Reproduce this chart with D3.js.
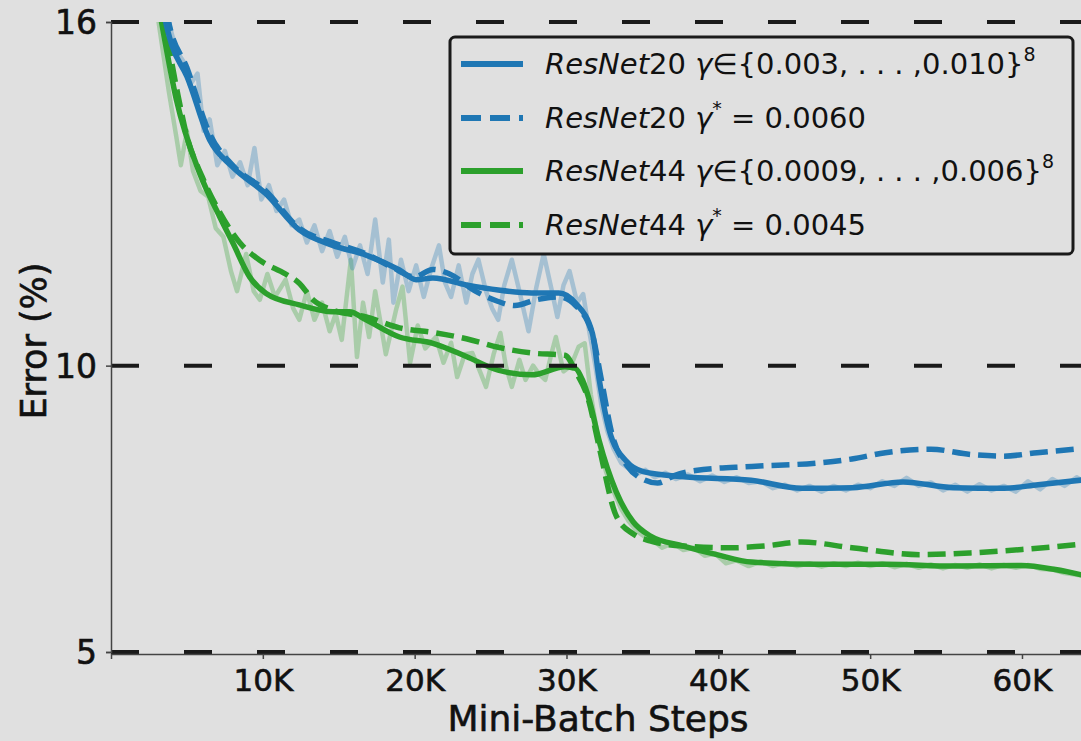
<!DOCTYPE html>
<html>
<head>
<meta charset="utf-8">
<script src="https://cdn.jsdelivr.net/npm/d3@7"></script>
<style>
  html, body { margin: 0; padding: 0; background: #e0e0e0; }
  svg { display: block; }
  text { font-family: "DejaVu Sans", sans-serif; fill: #111; }
</style>
</head>
<body>
<svg id="chart" width="1081" height="741"></svg>
<script>
// Steps are in thousands of mini-batches, values are test error in %.
const xTicks = [10, 20, 30, 40, 50, 60];
const yTicks = [5, 10, 16];

// ResNet20, per-step raw error for the scheduled gamma run
const resnet20Raw = [[3.3,16.6],[3.8,16.0],[4.3,15.5],[4.8,15.3],[5.2,14.9],[5.7,15.1],[6.1,14.1],[6.5,14.3],[7.0,13.5],[7.5,13.75],[8.0,13.3],[8.5,13.55],[9.0,13.15],[9.45,13.8],[9.9,12.9],[10.4,13.15],[10.9,12.7],[11.4,12.9],[11.9,12.45],[12.4,12.55],[12.9,12.15],[13.4,12.45],[13.9,12.0],[14.4,12.35],[14.9,11.9],[15.4,12.25],[15.9,11.7],[16.4,12.1],[16.9,11.6],[17.4,12.55],[17.9,11.45],[18.3,12.2],[18.6,11.1],[19.1,11.85],[19.6,11.3],[20.1,11.75],[20.6,11.2],[21.1,11.7],[21.6,12.1],[22.0,11.45],[22.4,11.2],[22.9,11.75],[23.4,11.1],[23.8,11.6],[24.2,11.85],[24.7,11.3],[25.1,11.0],[25.5,10.8],[25.9,11.4],[26.4,11.85],[26.9,11.3],[27.5,10.6],[28.0,11.35],[28.5,11.95],[29.0,11.35],[29.4,10.85],[29.8,11.4],[30.2,11.65],[30.7,11.1],[31.1,11.25],[31.5,10.6],[31.9,10.0],[32.3,9.3],[32.7,8.85],[33.1,8.55],[33.6,8.3],[34.1,8.2],[34.6,8.1],[35.2,8.18],[35.8,8.05],[36.5,8.13],[37.2,8.02],[38.0,8.1],[38.8,7.98],[39.6,8.08],[40.4,7.97],[41.2,8.05],[42.0,7.95],[42.8,7.98],[43.6,7.86],[44.4,7.92],[45.2,7.82],[46.0,7.9],[46.8,7.8],[47.6,7.9],[48.4,7.82],[49.2,7.92],[50.0,7.86],[50.8,7.98],[51.6,7.9],[52.4,8.04],[53.2,7.9],[54.0,7.96],[54.8,7.82],[55.6,7.92],[56.4,7.8],[57.2,7.93],[58.0,7.82],[58.8,7.9],[59.6,7.8],[60.4,7.98],[61.2,7.84],[62.0,8.02],[62.8,7.9],[63.6,8.05],[64.2,7.96]];

// ResNet20, smoothed error for gamma in {0.003, ..., 0.010}^8
const resnet20Sweep = [[3.2,16.6],[3.6,16.0],[4.0,15.6],[5.0,15.05],[6.5,13.94],[8.0,13.47],[10.2,13.0],[12.4,12.37],[14.6,12.1],[16.8,11.93],[19.0,11.67],[20.1,11.5],[21.2,11.53],[23.4,11.41],[25.5,11.32],[27.7,11.27],[29.5,11.27],[30.6,11.09],[31.7,10.57],[32.16,9.75],[32.83,8.86],[33.95,8.33],[35.05,8.15],[37.72,8.06],[42.15,8.0],[45.5,7.86],[48.84,7.87],[52.17,7.97],[55.48,7.87],[58.83,7.86],[61.06,7.92],[64.2,8.01]];

// ResNet20, smoothed error for the fixed gamma* = 0.0060
const resnet20Fixed = [[3.4,16.6],[3.8,16.0],[5.0,15.2],[6.5,14.05],[8.0,13.5],[10.2,13.05],[12.4,12.4],[14.6,12.15],[16.8,11.95],[18.5,11.72],[20.0,11.55],[21.2,11.68],[22.3,11.6],[24.0,11.3],[25.5,11.12],[26.6,11.05],[28.0,11.15],[29.5,11.2],[30.6,11.05],[31.7,10.55],[32.3,9.75],[33.0,8.8],[34.0,8.25],[35.0,8.02],[36.0,7.95],[37.1,8.08],[38.5,8.17],[42.2,8.24],[46.5,8.3],[48.8,8.37],[51.0,8.48],[54.0,8.54],[56.6,8.45],[58.8,8.42],[61.0,8.48],[64.2,8.56]];

// ResNet44, per-step raw error for the scheduled gamma run
const resnet44Raw = [[2.8,16.6],[3.3,15.7],[3.8,14.8],[4.3,14.0],[4.6,13.5],[5.0,14.1],[5.4,13.4],[5.9,13.05],[6.4,12.95],[6.9,12.4],[7.4,12.25],[7.9,11.65],[8.3,11.3],[8.9,11.95],[9.4,11.3],[9.8,11.15],[10.3,11.6],[10.8,11.2],[11.5,11.5],[12.0,11.0],[12.4,10.8],[12.9,11.3],[13.4,10.8],[13.9,11.1],[14.4,10.6],[14.8,10.9],[15.2,10.45],[15.8,11.85],[16.2,10.15],[16.6,11.1],[17.0,10.5],[17.4,11.3],[18.1,10.2],[18.8,11.0],[19.2,11.38],[19.7,10.05],[20.2,10.7],[20.7,10.3],[21.4,10.5],[21.9,10.05],[22.4,10.4],[22.8,9.8],[23.3,10.2],[23.8,10.22],[24.3,9.9],[24.7,9.63],[25.2,10.2],[25.65,10.57],[26.0,10.0],[26.4,9.63],[26.9,10.1],[27.3,9.75],[27.8,10.0],[28.2,9.85],[28.6,9.75],[29.0,10.2],[29.3,10.5],[29.8,9.9],[30.3,10.0],[30.8,10.33],[31.2,10.39],[31.6,9.5],[32.1,8.7],[32.6,8.15],[33.1,7.8],[33.6,7.5],[34.1,7.28],[34.6,7.12],[35.1,7.02],[35.7,6.95],[36.3,6.82],[37.0,6.9],[37.7,6.78],[38.4,6.82],[39.1,6.68],[39.8,6.72],[40.5,6.55],[41.2,6.6],[42.0,6.5],[42.8,6.58],[43.6,6.5],[44.4,6.56],[45.2,6.5],[46.0,6.55],[46.8,6.49],[47.6,6.55],[48.4,6.5],[49.2,6.56],[50.0,6.5],[50.8,6.55],[51.6,6.48],[52.4,6.54],[53.2,6.47],[54.0,6.53],[54.8,6.46],[55.6,6.52],[56.4,6.47],[57.2,6.53],[58.0,6.46],[58.8,6.52],[59.6,6.47],[60.4,6.52],[61.2,6.45],[62.0,6.44],[62.8,6.38],[63.6,6.35],[64.2,6.32]];

// ResNet44, smoothed error for gamma in {0.0009, ..., 0.006}^8
const resnet44Sweep = [[3.0,16.5],[3.33,16.0],[4.31,14.64],[5.84,13.36],[7.16,12.6],[8.03,12.14],[9.13,11.55],[10.22,11.26],[12.4,11.06],[14.6,10.94],[15.7,10.94],[16.8,10.8],[19.0,10.5],[21.2,10.39],[23.4,10.16],[25.5,9.92],[27.7,9.84],[29.9,9.98],[30.6,9.95],[31.05,9.75],[31.5,9.4],[32.16,8.68],[33.27,7.8],[34.4,7.27],[35.5,7.03],[37.7,6.85],[39.9,6.7],[42.2,6.57],[46.6,6.53],[51.06,6.53],[55.5,6.5],[59.95,6.51],[62.2,6.44],[64.2,6.33]];

// ResNet44, smoothed error for the fixed gamma* = 0.0045
const resnet44Fixed = [[3.0,16.6],[3.5,16.0],[4.3,14.87],[5.0,14.0],[6.0,13.3],[7.2,12.66],[8.5,12.14],[9.8,11.84],[11.5,11.6],[12.4,11.44],[13.3,11.15],[14.6,10.97],[16.8,10.85],[19.0,10.66],[21.2,10.58],[23.4,10.47],[25.5,10.32],[27.7,10.22],[29.9,10.18],[30.6,9.9],[31.45,9.4],[32.16,8.57],[33.27,7.38],[34.4,7.06],[35.5,6.94],[37.7,6.85],[41.0,6.82],[43.0,6.85],[45.5,6.92],[48.8,6.82],[53.3,6.7],[56.6,6.73],[60.0,6.79],[64.2,6.89]];

const legendLabels = [
  { parts: [["ResNet", "italic"], ["20 ", "normal"], ["γ", "italic"], ["∈{0.003, . . . ,0.010}", "normal"]], sup: "8" },
  { parts: [["ResNet", "italic"], ["20 ", "normal"], ["γ", "italic"]], sup: "*", tail: " = 0.0060" },
  { parts: [["ResNet", "italic"], ["44 ", "normal"], ["γ", "italic"], ["∈{0.0009, . . . ,0.006}", "normal"]], sup: "8" },
  { parts: [["ResNet", "italic"], ["44 ", "normal"], ["γ", "italic"]], sup: "*", tail: " = 0.0045" }
];

const BLUE = "#1f77b4", GREEN = "#2ca02c";

const svg = d3.select("#chart");
const W = 1081, H = 741;
const plotLeft = 111, plotTop = 22, plotBottom = 652;
const plotRight = plotLeft + 64.2 * 15.183;

svg.append("rect").attr("width", W).attr("height", H).attr("fill", "#e0e0e0");

const x = d3.scaleLinear().domain([0, 64.2]).range([plotLeft, plotRight]);
const y = d3.scaleLinear().domain([5, 16]).range([plotBottom, plotTop]);

svg.append("defs").append("clipPath").attr("id", "plotClip")
  .append("rect").attr("x", plotLeft).attr("y", plotTop)
  .attr("width", plotRight - plotLeft).attr("height", plotBottom - plotTop);

const plot = svg.append("g").attr("clip-path", "url(#plotClip)");

const rawLine = d3.line().x(d => x(d[0])).y(d => y(d[1])).curve(d3.curveLinear);
const smoothLine = d3.line().x(d => x(d[0])).y(d => y(d[1])).curve(d3.curveMonotoneX);

// raw traces underneath
plot.append("path").datum(resnet44Raw).attr("d", rawLine)
  .attr("fill", "none").attr("stroke", GREEN).attr("stroke-opacity", 0.3)
  .attr("stroke-width", 4.5).attr("stroke-linejoin", "round");
plot.append("path").datum(resnet20Raw).attr("d", rawLine)
  .attr("fill", "none").attr("stroke", BLUE).attr("stroke-opacity", 0.3)
  .attr("stroke-width", 4.5).attr("stroke-linejoin", "round");

const series = [
  { data: resnet20Sweep, color: BLUE, dash: null },
  { data: resnet20Fixed, color: BLUE, dash: "18,8" },
  { data: resnet44Sweep, color: GREEN, dash: null },
  { data: resnet44Fixed, color: GREEN, dash: "18,8" }
];

[series[3], series[2], series[1], series[0]].forEach(s => {
  plot.append("path").datum(s.data).attr("d", smoothLine)
    .attr("fill", "none").attr("stroke", s.color).attr("stroke-width", 5.5)
    .attr("stroke-dasharray", s.dash).attr("stroke-linejoin", "round");
});

// dashed horizontal guides at the y ticks
svg.append("g").selectAll("line").data(yTicks).join("line")
  .attr("x1", plotLeft).attr("x2", W)
  .attr("y1", d => y(d)).attr("y2", d => y(d))
  .attr("stroke", "#1a1a1a").attr("stroke-width", 4).attr("stroke-dasharray", "28,45");

// axes
const yAxis = svg.append("g").attr("transform", `translate(${plotLeft},0)`)
  .call(d3.axisLeft(y).tickValues(yTicks).tickSize(5).tickPadding(9).tickFormat(d3.format("d")));
const xAxis = svg.append("g").attr("transform", `translate(0,${plotBottom + 2})`)
  .call(d3.axisBottom(x).tickValues(xTicks).tickSize(5).tickPadding(10).tickFormat(d => d + "K"));

[yAxis, xAxis].forEach(a => {
  a.select(".domain").attr("stroke", "#444").attr("stroke-width", 1.5);
  a.selectAll(".tick line").attr("stroke", "#444").attr("stroke-width", 1.5);
  a.selectAll(".tick text").attr("font-family", "DejaVu Sans").attr("fill", "#111")
    .attr("stroke", "#111").attr("stroke-width", 0.6);
});
yAxis.selectAll(".tick text").attr("font-size", 33).attr("dy", "0.36em");
xAxis.selectAll(".tick text").attr("font-size", 31);

// axis titles
svg.append("text").attr("x", 598).attr("y", 731).attr("text-anchor", "middle")
  .attr("font-size", 36).attr("stroke", "#111").attr("stroke-width", 0.6).text("Mini-Batch Steps");
svg.append("text").attr("transform", "translate(46,341) rotate(-90)").attr("text-anchor", "middle")
  .attr("font-size", 35).attr("stroke", "#111").attr("stroke-width", 0.6).text("Error (%)");

// legend
const lg = svg.append("g");
lg.append("rect").attr("x", 450).attr("y", 37).attr("width", 623).attr("height", 217).attr("rx", 5)
  .attr("fill", "#e0e0e0").attr("stroke", "#1a1a1a").attr("stroke-width", 3);
const rowY = [64, 118, 171, 225];
series.forEach((s, i) => {
  lg.append("line").attr("x1", 461).attr("x2", 523).attr("y1", rowY[i]).attr("y2", rowY[i])
    .attr("stroke", s.color).attr("stroke-width", 6).attr("stroke-dasharray", s.dash ? "20,9" : null);
  const t = lg.append("text").attr("x", 545).attr("y", rowY[i] + 10).attr("font-size", 29)
    .attr("fill", "#222");
  const lab = legendLabels[i];
  lab.parts.forEach(p => t.append("tspan").attr("font-style", p[1]).text(p[0]));
  t.append("tspan").attr("font-size", 19).attr("dy", -13).text(lab.sup);
  if (lab.tail) t.append("tspan").attr("dy", 13).text(lab.tail);
});
</script>
</body>
</html>
